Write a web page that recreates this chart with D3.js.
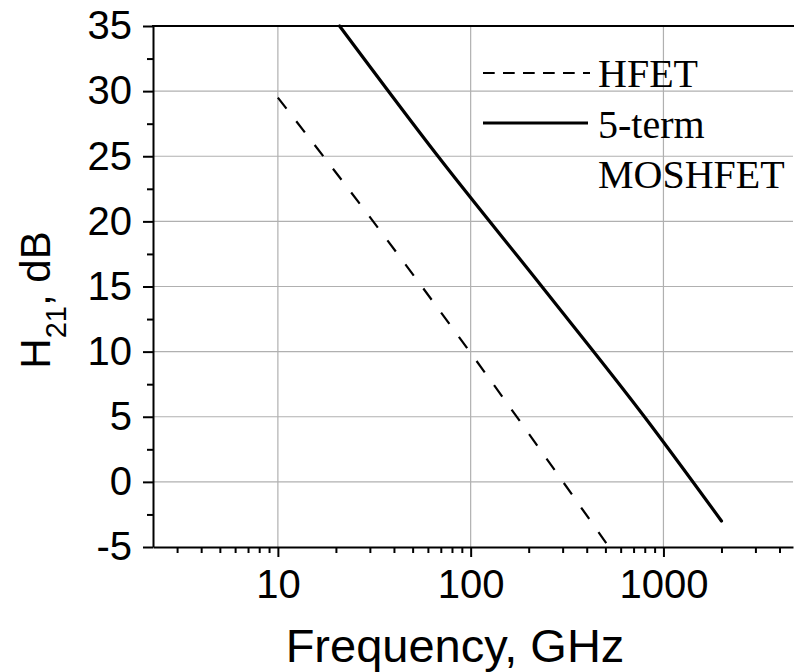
<!DOCTYPE html>
<html>
<head>
<meta charset="utf-8">
<script src="https://cdn.jsdelivr.net/npm/d3@7"></script>
<style>
  body { margin: 0; background: #fff; }
  svg { display: block; }
  .tick text { font-family: "Liberation Sans", Arial, sans-serif; font-size: 40px; fill: #000; }
</style>
</head>
<body>
<script>
// values
var hfetFreq = [10, 31.2, 100, 505];
var hfetGain = [29.5, 20, 9.9, -4.7];

var moshfetFreq = [20.9, 67.7, 234, 797, 2000];
var moshfetGain = [35, 25, 15, 5, -3];

var xTickLabels = [10, 100, 1000];
var yTickLabels = [-5, 0, 5, 10, 15, 20, 25, 30, 35];
var legendNames = ['HFET', '5-term', 'MOSHFET'];

var width = 794, height = 672;
var margin = { left: 153, top: 26, bottom: 547, right: 793 };

var svg = d3.select('body')
    .append('svg')
    .attr('width', width)
    .attr('height', height);

var x = d3.scaleLog()
    .domain([2.25, 4700])
    .range([margin.left, margin.right]);

var y = d3.scaleLinear()
    .domain([-5, 35])
    .range([margin.bottom, margin.top]);

function makeGrid() {
    var grid = svg.append('g').attr('class', 'grid');
    grid.selectAll('.vgrid')
        .data(xTickLabels)
        .enter()
        .append('line')
        .attr('x1', d => x(d)).attr('x2', d => x(d))
        .attr('y1', margin.top).attr('y2', margin.bottom)
        .style('stroke', '#b0b0b0').style('stroke-width', 1.2);
    grid.selectAll('.hgrid')
        .data(yTickLabels.filter(d => d > -5 && d < 35))
        .enter()
        .append('line')
        .attr('x1', margin.left).attr('x2', margin.right)
        .attr('y1', d => y(d)).attr('y2', d => y(d))
        .style('stroke', '#b0b0b0').style('stroke-width', 1.2);
}

function makeLines() {
    var hfet = hfetFreq.map((f, i) => [f, hfetGain[i]]);
    var mos = moshfetFreq.map((f, i) => [f, moshfetGain[i]]);
    var line = d3.line()
        .x(d => x(d[0]))
        .y(d => y(d[1]))
        .curve(d3.curveMonotoneX);

    svg.append('path')
        .datum(hfet)
        .attr('d', line)
        .style('fill', 'none')
        .style('stroke', '#000')
        .style('stroke-width', 2.2)
        .style('stroke-dasharray', '14,16');

    svg.append('path')
        .datum(mos)
        .attr('d', line)
        .style('fill', 'none')
        .style('stroke', '#000')
        .style('stroke-width', 3.2)
        .style('stroke-linecap', 'round');
}

function makeAxes() {
    var fmt = d => String(d);   // plain hyphen for -5

    // minor ticks first, under the major ones
    var xMinor = x.ticks().filter(d => xTickLabels.indexOf(d) < 0);
    svg.append('g')
        .attr('transform', 'translate(0,' + margin.bottom + ')')
        .call(d3.axisBottom(x).tickValues(xMinor).tickSize(6).tickFormat(''))
        .call(g => g.select('.domain').remove())
        .selectAll('line').style('stroke-width', 2);

    var yMinor = d3.range(-2.5, 35, 5);
    svg.append('g')
        .attr('transform', 'translate(' + margin.left + ',0)')
        .call(d3.axisLeft(y).tickValues(yMinor).tickSize(6).tickFormat(''))
        .call(g => g.select('.domain').remove())
        .selectAll('line').style('stroke-width', 2);

    var xAxis = svg.append('g')
        .attr('transform', 'translate(0,' + margin.bottom + ')')
        .call(d3.axisBottom(x).tickValues(xTickLabels).tickSize(10).tickSizeOuter(0)
            .tickPadding(13).tickFormat(fmt));
    xAxis.select('.domain').style('stroke-width', 2);
    xAxis.selectAll('line').style('stroke-width', 2);

    var yAxis = svg.append('g')
        .attr('transform', 'translate(' + margin.left + ',0)')
        .call(d3.axisLeft(y).tickValues(yTickLabels).tickSize(10).tickSizeOuter(0)
            .tickPadding(11).tickFormat(fmt));
    yAxis.select('.domain').style('stroke-width', 2);
    yAxis.selectAll('line').style('stroke-width', 2);

    // top frame
    svg.append('line')
        .attr('x1', margin.left - 1).attr('x2', width)
        .attr('y1', margin.top).attr('y2', margin.top)
        .style('stroke', '#000').style('stroke-width', 2);

    svg.append('text')
        .attr('x', 455)
        .attr('y', 662)
        .attr('text-anchor', 'middle')
        .style('font-family', '"Liberation Sans", Arial, sans-serif')
        .style('font-size', '47px')
        .text('Frequency, GHz');

    var yTitle = svg.append('text')
        .attr('transform', 'translate(50,300) rotate(-90)')
        .attr('text-anchor', 'middle')
        .style('font-family', '"Liberation Sans", Arial, sans-serif')
        .style('font-size', '42px');
    yTitle.append('tspan').text('H');
    yTitle.append('tspan').attr('dy', 16).style('font-size', '29px').text('21');
    yTitle.append('tspan').attr('dy', -16).text(', dB');
}

function makeLegend() {
    var legend = svg.append('g').attr('id', 'legend');
    legend.append('line')
        .attr('x1', 483).attr('x2', 590).attr('y1', 73).attr('y2', 73)
        .style('stroke', '#000').style('stroke-width', 2)
        .style('stroke-dasharray', '11.7,8.3');
    legend.append('line')
        .attr('x1', 483).attr('x2', 588).attr('y1', 123).attr('y2', 123)
        .style('stroke', '#000').style('stroke-width', 3.2);
    legend.selectAll('.legend-text')
        .data(legendNames)
        .enter()
        .append('text')
        .attr('x', 598)
        .attr('y', (_, i) => 87 + i * 50.5)
        .style('font-family', '"Liberation Serif", "Times New Roman", serif')
        .style('font-size', '40px')
        .text(d => d);
}

makeGrid();
makeLines();
makeAxes();
makeLegend();
</script>
</body>
</html>
